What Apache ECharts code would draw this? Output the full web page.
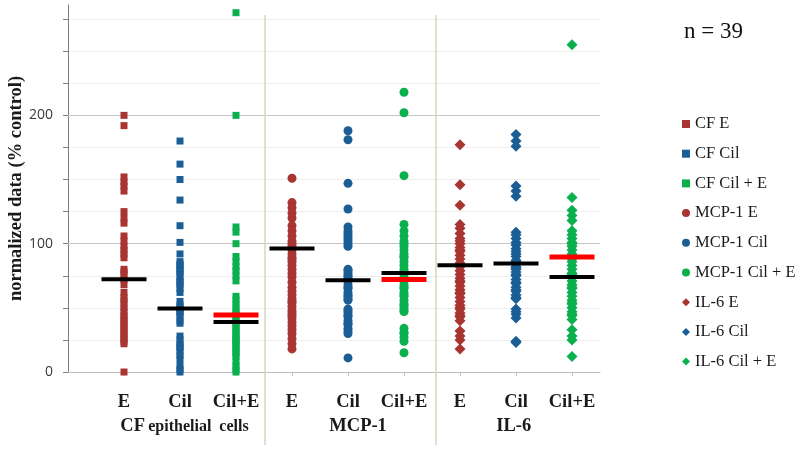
<!DOCTYPE html>
<html>
<head>
<meta charset="utf-8">
<script src="https://cdn.jsdelivr.net/npm/echarts@6/dist/echarts.min.js"></script>
<style>html,body{margin:0;padding:0;background:#fff}#c{width:798px;height:450px}</style>
</head>
<body>
<div id="c"></div>
<script>
const categories = ['E', 'Cil', 'Cil+E', 'E', 'Cil', 'Cil+E', 'E', 'Cil', 'Cil+E'];
const groups = ['CF epithelial cells', 'MCP-1', 'IL-6'];
const seriesNames = ['CF E', 'CF Cil', 'CF Cil + E', 'MCP-1 E', 'MCP-1 Cil', 'MCP-1 Cil + E', 'IL-6 E', 'IL-6 Cil', 'IL-6 Cil + E'];
const yTickLabels = [0, 100, 200];
const sampleSize = 'n = 39';

const cfE = [200, 192, 152, 148, 145, 141, 125, 120, 116, 106, 102, 98, 95, 92, 89, 80, 78, 76, 72, 68, 62, 58, 56, 53, 50, 47, 44, 42, 40, 38, 36, 34, 32, 30, 28, 26, 24, 22, 0];
const cfCil = [180, 162, 150, 134, 114, 101, 92, 86, 84, 83, 80, 79, 77, 74, 71, 70, 68, 65, 62, 55, 52, 50, 49, 47, 46, 43, 40, 38, 28, 25, 22, 20, 19, 16, 13, 10, 5, 2, 0];
const cfCilE = [280, 200, 113, 109, 100, 90, 86, 82, 79, 75, 71, 59, 56, 53, 50, 47, 45, 44, 42, 40, 38, 36, 34, 32, 30, 28, 26, 25, 24, 22, 20, 18, 16, 14, 12, 8, 5, 2, 0];
const mcpE = [151, 132, 128, 124, 120, 114, 110, 106, 102, 100, 98, 95, 92, 89, 88, 86, 83, 80, 77, 74, 70, 66, 63, 60, 57, 55, 54, 51, 48, 46, 44, 42, 39, 36, 33, 30, 26, 22, 18];
const mcpCil = [188, 181, 147, 127, 113, 110, 108, 106, 104, 102, 100, 98, 80, 79, 77, 75, 74, 72, 71, 68, 66, 65, 62, 60, 59, 57, 56, 49, 48, 46, 44, 43, 40, 38, 37, 34, 32, 30, 11];
const mcpCilE = [218, 202, 153, 115, 110, 106, 102, 100, 98, 95, 92, 90, 89, 86, 83, 80, 78, 77, 74, 72, 71, 68, 66, 65, 62, 60, 59, 56, 53, 52, 50, 48, 47, 34, 31, 30, 27, 24, 15];
const il6E = [177, 146, 130, 115, 112, 108, 104, 102, 100, 97, 95, 94, 91, 88, 85, 83, 82, 79, 76, 73, 71, 70, 67, 64, 62, 61, 58, 55, 52, 50, 49, 46, 44, 43, 40, 32, 28, 25, 18];
const il6Cil = [185, 180, 176, 145, 141, 137, 109, 107, 104, 101, 99, 96, 94, 92, 90, 87, 86, 84, 82, 81, 80, 78, 76, 75, 72, 70, 69, 66, 64, 63, 60, 58, 57, 49, 47, 45, 42, 24, 23];
const il6CilE = [255, 136, 126, 122, 118, 110, 107, 104, 101, 100, 98, 95, 92, 89, 88, 86, 83, 80, 77, 76, 74, 71, 68, 66, 65, 62, 59, 56, 54, 53, 50, 47, 45, 44, 41, 33, 28, 25, 12];

const blackBars = [72.2, 49.4, 39.0, 96.2, 71.5, 77.2, 83.2, 84.5, 74.0];
const redBars = [null, null, 44.4, null, null, 72.0, null, null, 89.6];

const allValues = [cfE, cfCil, cfCilE, mcpE, mcpCil, mcpCilE, il6E, il6Cil, il6CilE];

const RED = '#A83532', BLUE = '#1B5E96', GREEN = '#0BB04E';
const colors = [RED, BLUE, GREEN, RED, BLUE, GREEN, RED, BLUE, GREEN];
const symbols = ['rect', 'rect', 'rect', 'circle', 'circle', 'circle', 'diamond', 'diamond', 'diamond'];
const sizes = [7, 7, 7, 9, 9, 9, 11, 11, 11];
const SERIF = '"Liberation Serif", "DejaVu Serif", serif';

const series = allValues.map((vals, i) => ({
  name: seriesNames[i],
  type: 'scatter',
  xAxisIndex: 0, yAxisIndex: 0,
  symbol: symbols[i],
  symbolSize: sizes[i],
  itemStyle: { color: colors[i], opacity: 1 },
  clip: false,
  z: 3,
  data: vals.map(v => [i + 1, v])
}));

series.push({
  name: 'median',
  type: 'scatter',
  xAxisIndex: 0, yAxisIndex: 0,
  symbol: 'rect',
  symbolSize: [45, 4],
  itemStyle: { color: '#000000', opacity: 1 },
  z: 5,
  silent: true,
  data: blackBars.map((v, i) => [i + 1, v]),
  markLine: {
    silent: true, symbol: 'none', label: { show: false },
    lineStyle: { color: '#c6c6c6', width: 1, type: 'solid', opacity: 1 },
    data: [{ yAxis: 100 }, { yAxis: 200 }],
    z: 1
  }
});
series.push({
  name: 'mean',
  type: 'scatter',
  xAxisIndex: 0, yAxisIndex: 0,
  symbol: 'rect',
  symbolSize: [45, 5],
  itemStyle: { color: '#FF0000', opacity: 1 },
  z: 4,
  silent: true,
  data: redBars.map((v, i) => v === null ? null : [i + 1, v]).filter(d => d)
});
series.push({
  name: 'sep',
  type: 'line',
  xAxisIndex: 2, yAxisIndex: 2,
  data: [],
  silent: true,
  markLine: {
    silent: true, symbol: 'none', label: { show: false },
    lineStyle: { color: '#d8d5c0', width: 1.5, type: 'solid', opacity: 1 },
    data: [{ xAxis: 3.52 }, { xAxis: 6.57 }]
  }
});

const chart = echarts.init(document.getElementById('c'), null, { renderer: 'canvas' });
chart.setOption({
  animation: false,
  backgroundColor: '#fff',
  title: {
    text: sampleSize, left: 679, top: 15,
    textStyle: { fontFamily: SERIF, fontSize: 23, fontWeight: 'normal', color: '#111' }
  },
  legend: {
    orient: 'vertical', left: 677, top: 110,
    data: seriesNames.map((n, i) => ({ name: n, icon: symbols[i] })),
    itemWidth: 8, itemHeight: 8, itemGap: 11.7,
    textStyle: { fontFamily: SERIF, fontSize: 16.5, color: '#1a1a1a', lineHeight: 18 }
  },
  grid: [
    { left: 68, right: 198, top: 5, bottom: 78, containLabel: false, outerBoundsMode: 'none' },
    { left: 68, right: 198, top: 15, bottom: 5, containLabel: false, outerBoundsMode: 'none' }
  ],
  xAxis: [
    {
      gridIndex: 0, type: 'value', min: 0, max: 9.5, position: 'bottom',
      axisLine: { show: true, lineStyle: { color: '#bdbdbd', width: 1 } },
      axisTick: { show: true, customValues: [1, 2, 3, 4, 5, 6, 7, 8, 9], length: 4, lineStyle: { color: '#bdbdbd' } },
      splitLine: { show: false },
      axisLabel: {
        customValues: [1, 2, 3, 4, 5, 6, 7, 8, 9],
        formatter: v => categories[Math.round(v) - 1] || '',
        margin: 21, fontFamily: SERIF, fontWeight: 'bold', fontSize: 18.5, color: '#1a1a1a'
      }
    },
    {
      gridIndex: 0, type: 'value', min: 0, max: 9.5, position: 'bottom',
      axisLine: { show: false }, axisTick: { show: false, customValues: [2.08, 5.18, 7.96] }, splitLine: { show: false },
      axisLabel: {
        customValues: [2.08, 5.18, 7.96],
        formatter: v => {
          const g = v < 3.5 ? 0 : (v < 6.5 ? 1 : 2);
          if (g === 0) return '{a|CF} {b|epithelial  cells}';
          return '{a|' + groups[g] + '}';
        },
        margin: 45,
        rich: {
          a: { fontFamily: SERIF, fontWeight: 'bold', fontSize: 18.5, color: '#1a1a1a' },
          b: { fontFamily: SERIF, fontWeight: 'bold', fontSize: 16, color: '#1a1a1a' }
        }
      }
    },
    {
      gridIndex: 1, type: 'value', min: 0, max: 9.5, show: false
    }
  ],
  yAxis: [
    {
      gridIndex: 0, type: 'value', min: 0, max: 286, interval: 25,
      name: 'normalized data (% control)', nameLocation: 'middle', nameGap: 42, nameMoveOverlap: false,
      nameTextStyle: { fontFamily: SERIF, fontWeight: 'bold', fontSize: 18.5, color: '#1a1a1a' },
      axisLine: { show: true, lineStyle: { color: '#7f7f7f', width: 1 } },
      axisTick: { show: true, customValues: [0, 25, 50, 75, 100, 125, 150, 175, 200, 225, 250, 275], length: 5, lineStyle: { color: '#7f7f7f' } },
      splitLine: { show: true, lineStyle: { color: '#eeeeee', width: 1 } },
      axisLabel: {
        customValues: yTickLabels,
        margin: 15, fontFamily: '"Open Sans", "DejaVu Sans", sans-serif', fontSize: 14, color: '#3a3a3a'
      }
    },
    { gridIndex: 0, type: 'value', min: 0, max: 286, show: false },
    { gridIndex: 1, type: 'value', min: 0, max: 1, show: false }
  ],
  series: series
});
</script>
</body>
</html>
